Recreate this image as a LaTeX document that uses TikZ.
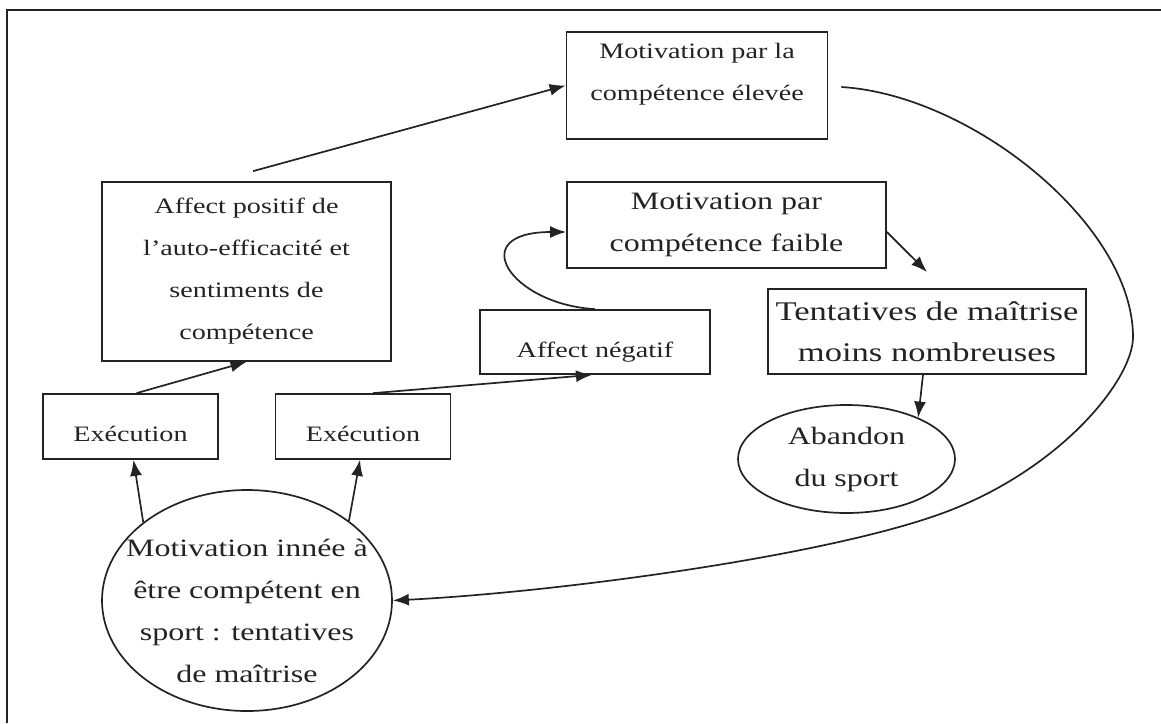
\documentclass[tikz,border=0pt]{standalone}
\usepackage{fontspec}
\setmainfont{Liberation Serif}[FakeStretch=1.28]
\usepackage{tikz}
\usetikzlibrary{shapes.geometric,arrows.meta}
\definecolor{ink}{RGB}{35,35,35}

\begin{document}
\begin{tikzpicture}[x=1pt,y=-1pt,
    box/.style={draw=ink,line width=1.7pt,inner sep=2pt,align=center,text=ink},
    oval/.style={box,ellipse},
    txt/.style={text=ink,align=center},
    arr/.style={draw=ink,line width=1.7pt,-{Latex[length=16pt,width=12pt]}},
    small/.style={font=\fontsize{22}{42}\selectfont},
    mid/.style={font=\fontsize{25}{42}\selectfont},
    big/.style={font=\fontsize{27}{41}\selectfont}]
  \useasboundingbox (0,0) rectangle (1161,723);
  \draw[ink,line width=2pt] (1161,10) -- (7,10) -- (7,723);
  \node[box,minimum width=261pt,minimum height=107pt] (high) at (697,85.5) {};
  \node[txt,small] (hightxt) at (697,74) {Motivation par la\\compétence élevée};
  \node[box,small,minimum width=289pt,minimum height=179pt] (pos) at (246.5,271.5) {Affect positif de\\l'auto-efficacité et\\sentiments de\\compétence};
  \node[box,mid,minimum width=319pt,minimum height=86pt] (faible) at (726.5,225) {Motivation par\\compétence faible};
  \node[box,small,minimum width=230pt,minimum height=64pt,text height=32pt,text depth=2pt] (neg) at (595,342) {Affect négatif};
  \node[box,big,minimum width=318pt,minimum height=85pt] (tent) at (927,331.5) {Tentatives de maîtrise\\moins nombreuses};
  \node[oval,mid,minimum width=217pt,minimum height=108pt] (aband) at (846.5,459) {Abandon\\du sport};
  \node[box,small,minimum width=175pt,minimum height=65pt,text height=31pt,text depth=2pt] (exec1) at (130.5,426.5) {Exécution};
  \node[box,small,minimum width=175pt,minimum height=65pt,text height=31pt,text depth=2pt] (exec2) at (363,426.5) {Exécution};
  \node[oval,minimum width=290pt,minimum height=221pt,inner sep=0pt] (innee) at (247,600.5) {};
  \node[txt,mid] (inntxt) at (247,610.5) {Motivation innée à\\être compétent en\\sport : tentatives\\de maîtrise};
  \coordinate (faibleend) at (927,272);

  \draw[arr] ([xshift=6.5pt,yshift=10pt]pos.north) -- (high.west);
  \draw[arr] ([xshift=6pt]exec1.north) -- (pos.south);
  \draw[arr] ([xshift=10pt]exec2.north) -- ([xshift=-3pt]neg.south);
  \draw[arr] (neg.north) .. controls +(-85,-5) and +(-102,0) .. ([yshift=-7pt]faible.west);
  \draw[arr] ([yshift=-7pt]faible.east) -- (faibleend);
  \draw[arr] ([xshift=-4pt]tent.south) -- (aband.30);
  \draw[arr] (innee.143.5) -- ([xshift=3pt]exec1.south);
  \draw[arr] (innee.38) -- ([xshift=-3pt]exec2.south);
  \draw[arr] ([xshift=13pt,yshift=-1.5pt]high.east) .. controls (972,95) and (1133,225) .. (1133,337)
    .. controls (1133,380) and (1060,470) .. (943,513)
    .. controls (826,556) and (560,592) .. (innee.east);
\end{tikzpicture}
\end{document}
